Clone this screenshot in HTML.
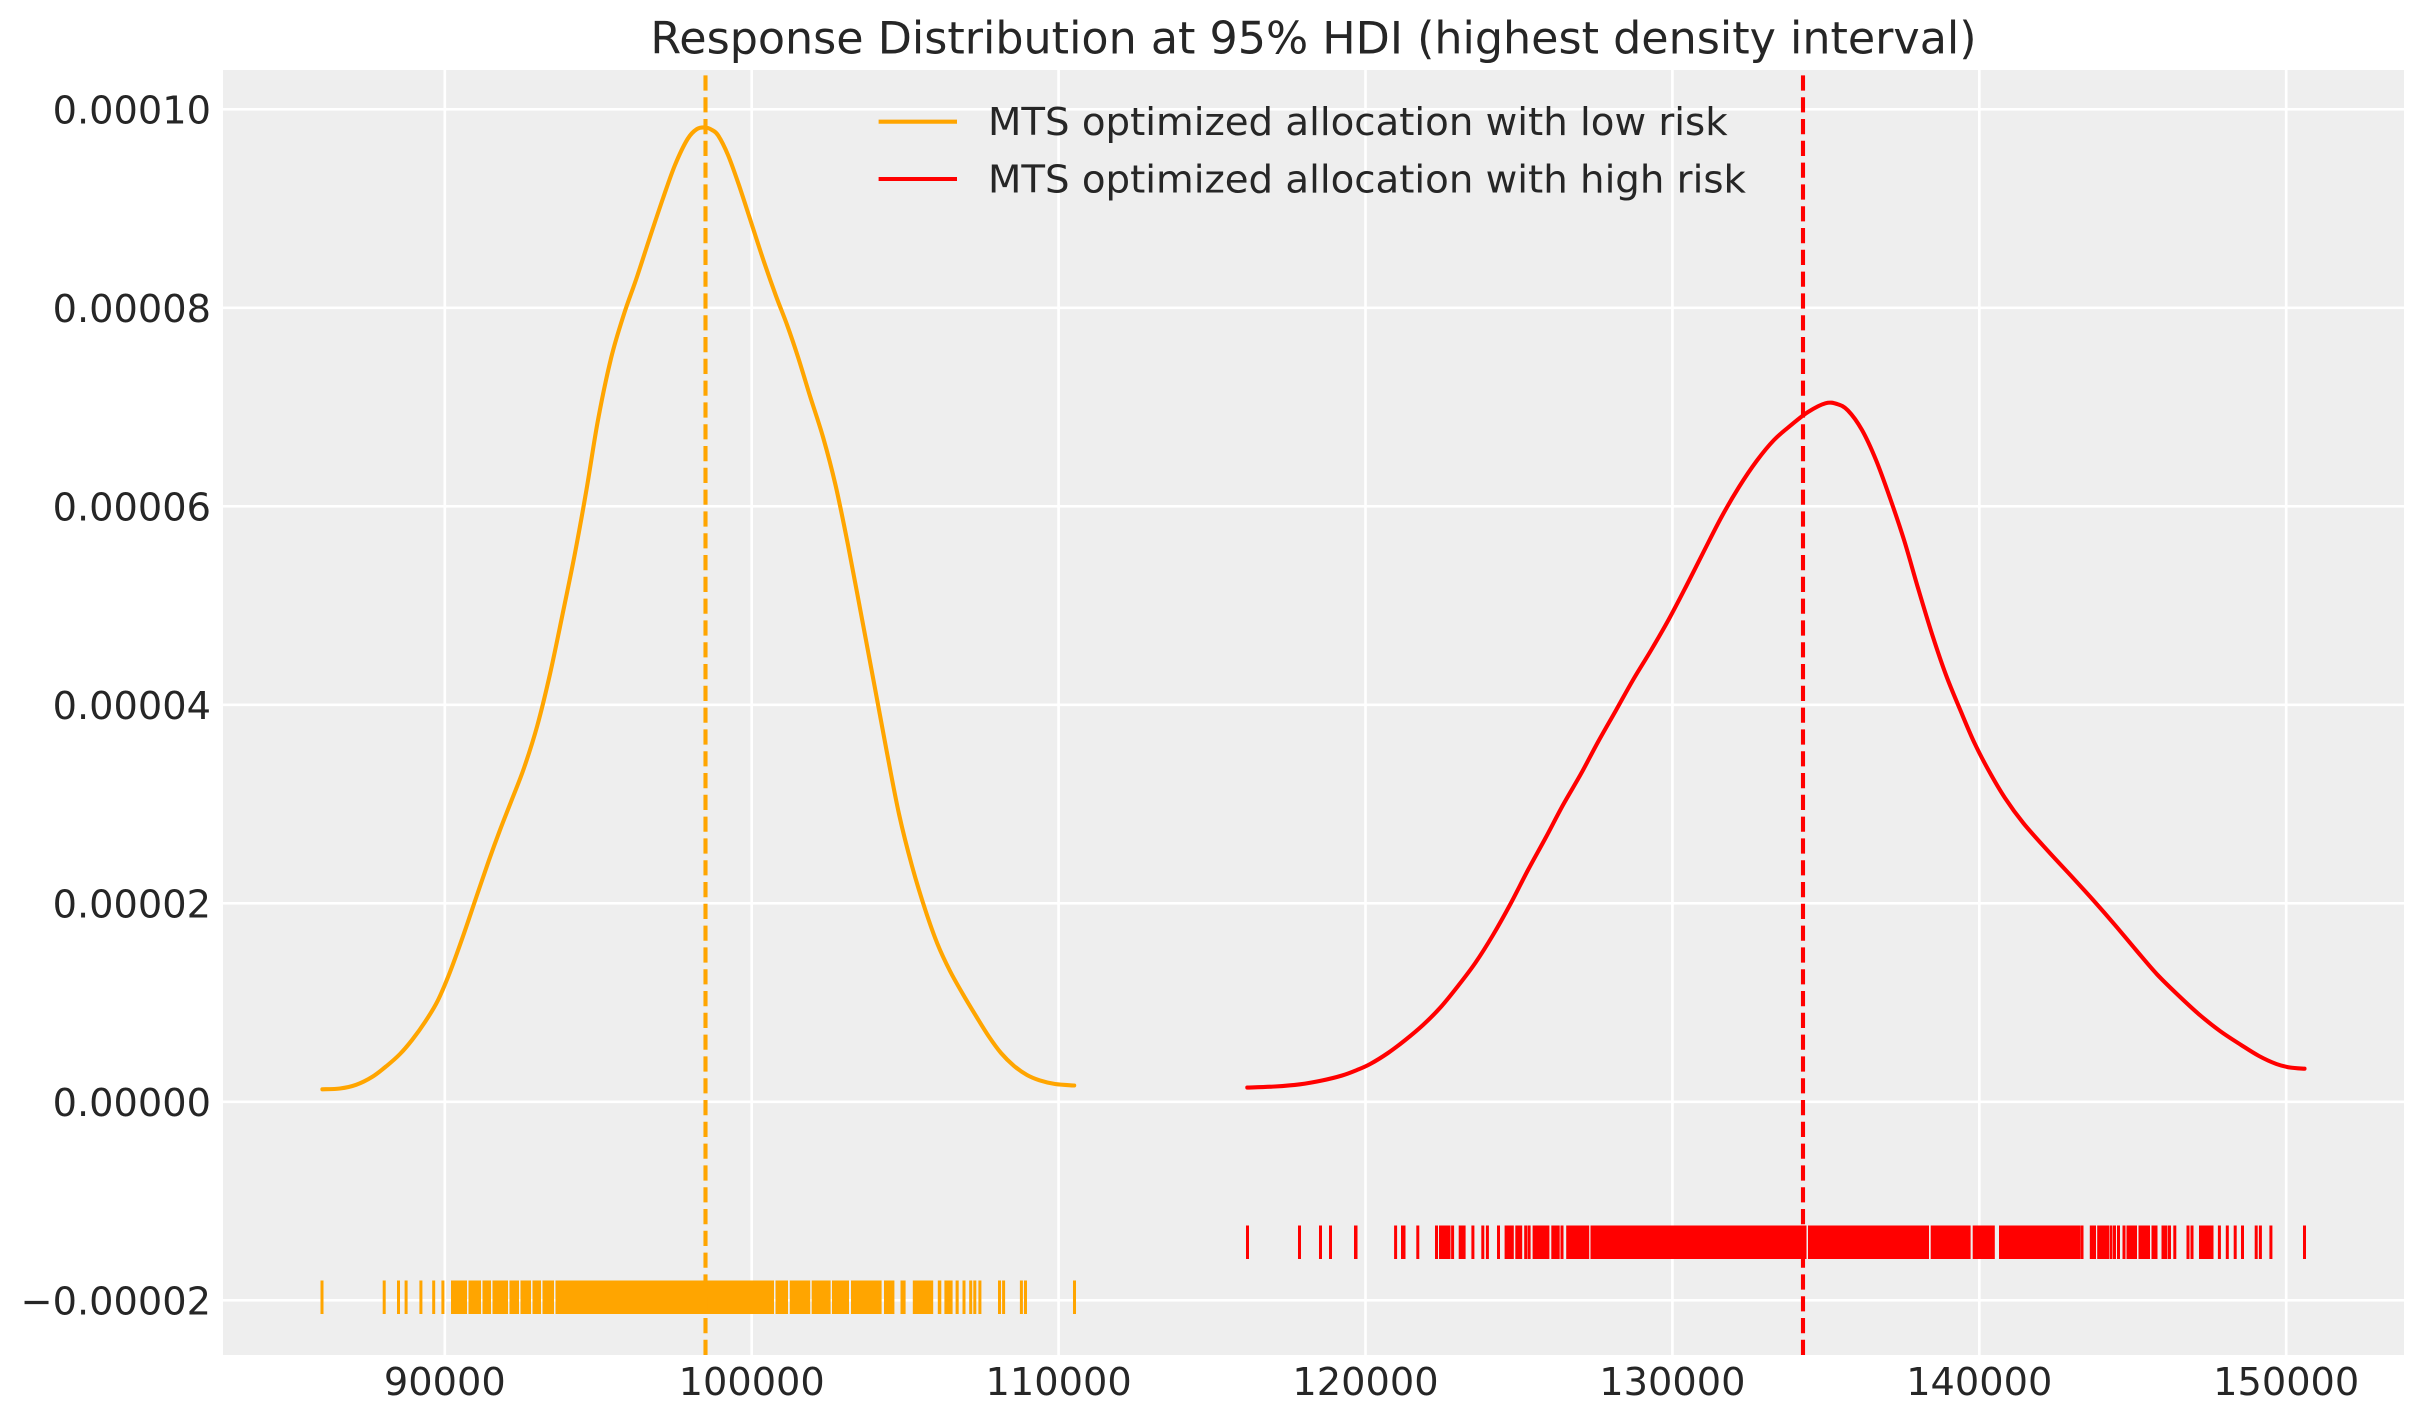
<!DOCTYPE html>
<html>
<head>
<meta charset="utf-8">
<style>
html,body{margin:0;padding:0;background:#ffffff;overflow:hidden;}
svg{display:block;}
text{font-family:"DejaVu Sans","Liberation Sans",sans-serif;fill:#262626;}
</style>
</head>
<body>
<svg id="chart" width="2423" height="1423" viewBox="0 0 2423 1423" xmlns="http://www.w3.org/2000/svg">
<rect x="0" y="0" width="2423" height="1423" fill="#ffffff"/>
<rect x="223" y="70" width="2181" height="1285" fill="#eeeeee"/>
<g stroke="#ffffff" stroke-width="2.7">
<line x1="444.8" y1="70" x2="444.8" y2="1355"/>
<line x1="751.7" y1="70" x2="751.7" y2="1355"/>
<line x1="1058.6" y1="70" x2="1058.6" y2="1355"/>
<line x1="1365.5" y1="70" x2="1365.5" y2="1355"/>
<line x1="1672.4" y1="70" x2="1672.4" y2="1355"/>
<line x1="1979.3" y1="70" x2="1979.3" y2="1355"/>
<line x1="2286.2" y1="70" x2="2286.2" y2="1355"/>
<line x1="223" y1="109.3" x2="2404" y2="109.3"/>
<line x1="223" y1="307.8" x2="2404" y2="307.8"/>
<line x1="223" y1="506.3" x2="2404" y2="506.3"/>
<line x1="223" y1="704.8" x2="2404" y2="704.8"/>
<line x1="223" y1="903.3" x2="2404" y2="903.3"/>
<line x1="223" y1="1101.8" x2="2404" y2="1101.8"/>
<line x1="223" y1="1300.3" x2="2404" y2="1300.3"/>
</g>

<polyline class="smooth" fill="none" stroke="#FFA500" stroke-width="4.1" stroke-linejoin="round" stroke-linecap="round" points="322.4,1089.3 340,1088.5 356.1,1084.8 372,1077 386.7,1065.9 400,1054 412.2,1039.8 425,1022 437.7,1000.8 450,972 463.2,935.7 476,898 488.7,860.9 500,830 511.7,800 524,768 537.2,726 550,674 562.7,613.6 575,553 586.6,489 598,420 611.1,358 624,314 636.6,278 650,237 663.1,198 675,165 687.6,139 697,129 705.5,127.5 712,130 718.2,135.5 728,155 738.6,184.1 751,222 764.1,262.2 776,296 787.1,325 798,357 810,396 823,437 835.5,485 848,545 861,613.6 874,683 886.5,750.2 899,814 912,866 925,909 937.5,944 950,971 963,994.3 976,1016 988.5,1036 1001,1053 1014,1065.9 1027,1075 1039.5,1080.3 1055,1084 1074.2,1085.5"/>

<polyline class="smooth" fill="none" stroke="#FF0000" stroke-width="4.1" stroke-linejoin="round" stroke-linecap="round" points="1247.3,1087.6 1275,1086.5 1300,1084.3 1322,1080.5 1342.1,1075.5 1357,1070 1370.2,1064 1388,1053 1405.3,1040 1423,1025 1440.5,1007.4 1458,986 1475.6,962.5 1493,935 1510.7,903.5 1528,870 1545.8,837.5 1563,805 1581,773.8 1598,742 1616.1,710.1 1633,680 1651.2,650 1669,619 1686.3,586 1704,551 1721.5,517 1739,487 1756.6,461 1774,440 1791.7,424.6 1808,412 1825.4,403.3 1837,404 1847.9,410.4 1862,430 1876,460 1890,498 1904.1,540.2 1918,588 1932.2,634.6 1946,675 1960.3,710.1 1974,742 1988.4,770 2005,798 2023.5,823.3 2048,851 2072.7,877.6 2094,901 2114.8,924.8 2136,950 2157,974.3 2178,995 2199.1,1014.4 2220,1031 2241.3,1045.1 2259,1056 2276.4,1064 2290,1067.5 2304.5,1068.7"/>

<g fill="#FFA500">
<rect x="320.5" y="1280.5" width="3" height="33.5"/>
<rect x="382.7" y="1280.5" width="3" height="33.5"/>
<rect x="397" y="1280.5" width="3" height="33.5"/>
<rect x="404.6" y="1280.5" width="3" height="33.5"/>
<rect x="419.4" y="1280.5" width="3" height="33.5"/>
<rect x="432.2" y="1280.5" width="3" height="33.5"/>
<rect x="441.4" y="1280.5" width="3" height="33.5"/>
<rect x="451" y="1280.5" width="16" height="33.5"/>
<rect x="468.5" y="1280.5" width="12.5" height="33.5"/>
<rect x="482.5" y="1280.5" width="8.5" height="33.5"/>
<rect x="492.5" y="1280.5" width="15.5" height="33.5"/>
<rect x="509.5" y="1280.5" width="9.5" height="33.5"/>
<rect x="520.5" y="1280.5" width="10.5" height="33.5"/>
<rect x="532.5" y="1280.5" width="8.5" height="33.5"/>
<rect x="542.5" y="1280.5" width="11.5" height="33.5"/>
<rect x="555.5" y="1280.5" width="218.5" height="33.5"/>
<rect x="775.5" y="1280.5" width="12.5" height="33.5"/>
<rect x="789.8" y="1280.5" width="20.4" height="33.5"/>
<rect x="811.7" y="1280.5" width="18.9" height="33.5"/>
<rect x="832" y="1280.5" width="17" height="33.5"/>
<rect x="851" y="1280.5" width="30.6" height="33.5"/>
<rect x="884" y="1280.5" width="10.4" height="33.5"/>
<rect x="900.5" y="1280.5" width="5.1" height="33.5"/>
<rect x="912.8" y="1280.5" width="20.4" height="33.5"/>
<rect x="937.8" y="1280.5" width="3.5" height="33.5"/>
<rect x="944.4" y="1280.5" width="8.2" height="33.5"/>
<rect x="955.6" y="1280.5" width="3.1" height="33.5"/>
<rect x="962.5" y="1280.5" width="3" height="33.5"/>
<rect x="969.2" y="1280.5" width="3" height="33.5"/>
<rect x="973.3" y="1280.5" width="3" height="33.5"/>
<rect x="978.4" y="1280.5" width="3" height="33.5"/>
<rect x="998" y="1280.5" width="3" height="33.5"/>
<rect x="1002.1" y="1280.5" width="3" height="33.5"/>
<rect x="1019.9" y="1280.5" width="3" height="33.5"/>
<rect x="1024" y="1280.5" width="3" height="33.5"/>
<rect x="1073" y="1280.5" width="3" height="33.5"/>
</g>

<g fill="#FF0000">
<rect x="1246" y="1225.5" width="3" height="33.5"/>
<rect x="1298" y="1225.5" width="3" height="33.5"/>
<rect x="1319" y="1225.5" width="3" height="33.5"/>
<rect x="1329" y="1225.5" width="3" height="33.5"/>
<rect x="1354" y="1225.5" width="3.5" height="33.5"/>
<rect x="1394.1" y="1225.5" width="3" height="33.5"/>
<rect x="1401" y="1225.5" width="4.5" height="33.5"/>
<rect x="1416.3" y="1225.5" width="3" height="33.5"/>
<rect x="1435" y="1225.5" width="3" height="33.5"/>
<rect x="1439" y="1225.5" width="3" height="33.5"/>
<rect x="1442" y="1225.5" width="3" height="33.5"/>
<rect x="1445" y="1225.5" width="3" height="33.5"/>
<rect x="1447.5" y="1225.5" width="3" height="33.5"/>
<rect x="1451.1" y="1225.5" width="3" height="33.5"/>
<rect x="1458.7" y="1225.5" width="6.9" height="33.5"/>
<rect x="1471.4" y="1225.5" width="3" height="33.5"/>
<rect x="1481.3" y="1225.5" width="3" height="33.5"/>
<rect x="1485.9" y="1225.5" width="3" height="33.5"/>
<rect x="1497" y="1225.5" width="3" height="33.5"/>
<rect x="1504.6" y="1225.5" width="9.2" height="33.5"/>
<rect x="1515.3" y="1225.5" width="6.9" height="33.5"/>
<rect x="1524.2" y="1225.5" width="3" height="33.5"/>
<rect x="1527.6" y="1225.5" width="3" height="33.5"/>
<rect x="1532.6" y="1225.5" width="16.8" height="33.5"/>
<rect x="1551.3" y="1225.5" width="8.4" height="33.5"/>
<rect x="1560.5" y="1225.5" width="3" height="33.5"/>
<rect x="1566.2" y="1225.5" width="23" height="33.5"/>
<rect x="1590.5" y="1225.5" width="216" height="33.5"/>
<rect x="1808" y="1225.5" width="121" height="33.5"/>
<rect x="1930.7" y="1225.5" width="39.9" height="33.5"/>
<rect x="1972.7" y="1225.5" width="22.1" height="33.5"/>
<rect x="1999" y="1225.5" width="81.3" height="33.5"/>
<rect x="2080.5" y="1225.5" width="3" height="33.5"/>
<rect x="2089.8" y="1225.5" width="6.2" height="33.5"/>
<rect x="2097.2" y="1225.5" width="3" height="33.5"/>
<rect x="2100" y="1225.5" width="3" height="33.5"/>
<rect x="2103" y="1225.5" width="3" height="33.5"/>
<rect x="2106" y="1225.5" width="3" height="33.5"/>
<rect x="2109.5" y="1225.5" width="3" height="33.5"/>
<rect x="2113" y="1225.5" width="3" height="33.5"/>
<rect x="2117" y="1225.5" width="3" height="33.5"/>
<rect x="2122.5" y="1225.5" width="3" height="33.5"/>
<rect x="2126.5" y="1225.5" width="10.5" height="33.5"/>
<rect x="2138.5" y="1225.5" width="11.5" height="33.5"/>
<rect x="2151.5" y="1225.5" width="6" height="33.5"/>
<rect x="2161.5" y="1225.5" width="3" height="33.5"/>
<rect x="2164.5" y="1225.5" width="3" height="33.5"/>
<rect x="2168" y="1225.5" width="3" height="33.5"/>
<rect x="2173.3" y="1225.5" width="3" height="33.5"/>
<rect x="2186.5" y="1225.5" width="3" height="33.5"/>
<rect x="2190.5" y="1225.5" width="3" height="33.5"/>
<rect x="2199" y="1225.5" width="3" height="33.5"/>
<rect x="2202" y="1225.5" width="3" height="33.5"/>
<rect x="2205" y="1225.5" width="3" height="33.5"/>
<rect x="2208" y="1225.5" width="3" height="33.5"/>
<rect x="2210.5" y="1225.5" width="3" height="33.5"/>
<rect x="2217.9" y="1225.5" width="3" height="33.5"/>
<rect x="2225.8" y="1225.5" width="3" height="33.5"/>
<rect x="2233.7" y="1225.5" width="3" height="33.5"/>
<rect x="2241" y="1225.5" width="3" height="33.5"/>
<rect x="2254.7" y="1225.5" width="3" height="33.5"/>
<rect x="2258.9" y="1225.5" width="3" height="33.5"/>
<rect x="2269.4" y="1225.5" width="3" height="33.5"/>
<rect x="2303" y="1225.5" width="3" height="33.5"/>
</g>

<line x1="705.5" y1="1355" x2="705.5" y2="70" stroke="#FFA500" stroke-width="4.1" stroke-dasharray="15.2 6.6"/>
<line x1="1803" y1="1355" x2="1803" y2="70" stroke="#FF0000" stroke-width="4.1" stroke-dasharray="15.2 6.6"/>

<line x1="878.6" y1="121.7" x2="957" y2="121.7" stroke="#FFA500" stroke-width="4.1"/>
<text x="988" y="135" font-size="38.7">MTS optimized allocation with low risk</text>
<line x1="878.6" y1="179" x2="957" y2="179" stroke="#FF0000" stroke-width="4.1"/>
<text x="988" y="192.7" font-size="38.7">MTS optimized allocation with high risk</text>

<text x="1313.5" y="53.6" font-size="44.4" text-anchor="middle">Response Distribution at 95% HDI (highest density interval)</text>

<g font-size="38.3" text-anchor="end">
<text x="211" y="123.3">0.00010</text>
<text x="211" y="321.8">0.00008</text>
<text x="211" y="520.3">0.00006</text>
<text x="211" y="718.8">0.00004</text>
<text x="211" y="917.3">0.00002</text>
<text x="211" y="1115.8">0.00000</text>
<text x="211" y="1314.3">−0.00002</text>
</g>

<g font-size="38.3" text-anchor="middle">
<text x="444.8" y="1395">90000</text>
<text x="751.7" y="1395">100000</text>
<text x="1058.6" y="1395">110000</text>
<text x="1365.5" y="1395">120000</text>
<text x="1672.4" y="1395">130000</text>
<text x="1979.3" y="1395">140000</text>
<text x="2286.2" y="1395">150000</text>
</g>
</svg>
<script>
(function(){
  var ns = "http://www.w3.org/2000/svg";
  var polys = document.querySelectorAll("polyline.smooth");
  for (var k = 0; k < polys.length; k++) {
    var pl = polys[k];
    var raw = pl.getAttribute("points").trim().split(/\s+/);
    var p = [];
    for (var i = 0; i < raw.length; i++) {
      var xy = raw[i].split(",");
      p.push([parseFloat(xy[0]), parseFloat(xy[1])]);
    }
    var d = "M" + p[0][0] + "," + p[0][1];
    for (var j = 0; j < p.length - 1; j++) {
      var p0 = p[j > 0 ? j - 1 : j];
      var p1 = p[j];
      var p2 = p[j + 1];
      var p3 = p[j + 2 < p.length ? j + 2 : j + 1];
      var c1x = p1[0] + (p2[0] - p0[0]) / 6;
      var c1y = p1[1] + (p2[1] - p0[1]) / 6;
      var c2x = p2[0] - (p3[0] - p1[0]) / 6;
      var c2y = p2[1] - (p3[1] - p1[1]) / 6;
      d += " C" + c1x.toFixed(2) + "," + c1y.toFixed(2) + " " + c2x.toFixed(2) + "," + c2y.toFixed(2) + " " + p2[0] + "," + p2[1];
    }
    var path = document.createElementNS(ns, "path");
    path.setAttribute("d", d);
    path.setAttribute("fill", "none");
    path.setAttribute("stroke", pl.getAttribute("stroke"));
    path.setAttribute("stroke-width", pl.getAttribute("stroke-width"));
    path.setAttribute("stroke-linejoin", "round");
    path.setAttribute("stroke-linecap", "round");
    pl.parentNode.replaceChild(path, pl);
  }
})();
</script>
</body>
</html>
